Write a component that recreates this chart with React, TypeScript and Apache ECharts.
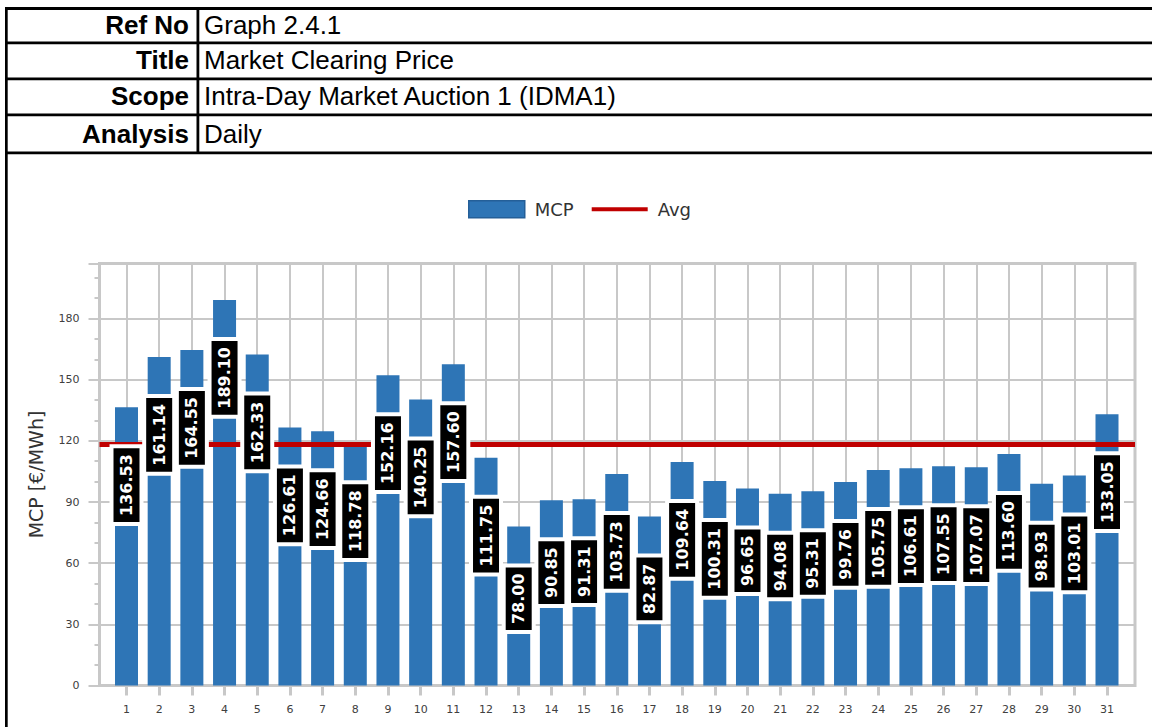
import React, { useEffect, useRef } from "react";
import * as echarts from "echarts";

const days = [
  "1", "2", "3", "4", "5", "6", "7", "8", "9", "10", "11", "12", "13", "14", "15", "16",
  "17", "18", "19", "20", "21", "22", "23", "24", "25", "26", "27", "28", "29", "30", "31",
];
const mcp = [
  136.53, 161.14, 164.55, 189.1, 162.33, 126.61, 124.66, 118.78, 152.16, 140.25, 157.6,
  111.75, 78.0, 90.85, 91.31, 103.73, 82.87, 109.64, 100.31, 96.65, 94.08, 95.31, 99.76,
  105.75, 106.61, 107.55, 107.07, 113.6, 98.93, 103.01, 133.05,
];
const avgValue = 118.18;
const yMin = 0;
const yMax = 207;
const yInterval = 30;

const headerLabels = ["Ref No", "Title", "Scope", "Analysis"];
const headerValues = ["Graph 2.4.1", "Market Clearing Price", "Intra-Day Market Auction 1 (IDMA1)", "Daily"];

const FONT = "DejaVu Sans";
const HFONT = "Liberation Sans";
const GRID_COLOR = "#c8c8c8";

export default function App() {
  const ref = useRef<HTMLDivElement>(null);

  useEffect(() => {
    const chart = echarts.init(ref.current!, null, { renderer: "svg" });

    const rowCenters = [24.7, 60, 96, 134];
    const rowLines = [41.5, 77.5, 113.5, 151.5];

    const graphic: any[] = [
      { type: "rect", z: 100, shape: { x: 5, y: 7, width: 1147, height: 3 }, style: { fill: "#000" } },
      { type: "rect", z: 100, shape: { x: 5, y: 7, width: 2.7, height: 720 }, style: { fill: "#000" } },
      { type: "rect", z: 100, shape: { x: 196.5, y: 7, width: 2.8, height: 147 }, style: { fill: "#000" } },
      ...rowLines.map((y) => ({
        type: "rect",
        z: 100,
        shape: { x: 5, y, width: 1147, height: 2.8 },
        style: { fill: "#000" },
      })),
      ...headerLabels.map((t, i) => ({
        type: "text",
        z: 100,
        x: 189,
        y: rowCenters[i],
        style: {
          text: t,
          fontFamily: HFONT,
          fontSize: 26,
          fontWeight: "bold",
          align: "right",
          verticalAlign: "middle",
          fill: "#000",
        },
      })),
      ...headerValues.map((t, i) => ({
        type: "text",
        z: 100,
        x: 204,
        y: rowCenters[i],
        style: {
          text: t,
          fontFamily: HFONT,
          fontSize: 26,
          align: "left",
          verticalAlign: "middle",
          fill: "#000",
        },
      })),
    ];

    const option: any = {
      animation: false,
      backgroundColor: "#fff",
      graphic,
      legend: {
        left: 463,
        top: 195,
        itemWidth: 56,
        itemHeight: 17,
        itemGap: 18,
        selectedMode: false,
        textStyle: { fontFamily: FONT, fontSize: 18, color: "#333", padding: [0, 0, 0, 5] },
        data: [
          { name: "MCP", icon: "rect", itemStyle: { borderColor: "#245f98", borderWidth: 1.5 } },
          { name: "Avg", icon: "path://M0,0L56,0L56,4L0,4Z", itemStyle: { color: "#c00000" } },
        ],
      },
      grid: [
        {
          left: 99.5,
          right: 17,
          top: 263.5,
          bottom: 41.5,
          show: true,
          borderColor: GRID_COLOR,
          borderWidth: 3,
          backgroundColor: "transparent",
        },
        { left: 126.5, right: 45, top: 263.5, bottom: 41.5 },
      ],
      xAxis: [
        { gridIndex: 0, type: "value", min: 0, max: 1, show: false },
        {
          gridIndex: 1,
          type: "category",
          data: days,
          boundaryGap: false,
          axisLine: { show: false },
          axisTick: { show: true, interval: 0, length: 10, lineStyle: { color: GRID_COLOR, width: 3 } },
          axisLabel: { interval: 0, color: "#404040", fontFamily: FONT, fontSize: 11, margin: 18 },
          splitLine: { show: true, interval: 0, lineStyle: { color: GRID_COLOR, width: 2 } },
        },
      ],
      yAxis: [
        {
          gridIndex: 0,
          type: "value",
          min: yMin,
          max: yMax,
          interval: yInterval,
          axisLine: { show: false },
          axisTick: { show: true, length: 11, lineStyle: { color: GRID_COLOR, width: 2 } },
          minorTick: { show: true, splitNumber: 3, length: 5, lineStyle: { color: GRID_COLOR, width: 2 } },
          axisLabel: { color: "#404040", fontFamily: FONT, fontSize: 11, margin: 20, showMaxLabel: false },
          splitLine: { show: true, lineStyle: { color: GRID_COLOR, width: 2 } },
          name: "MCP [€/MWh]",
          nameLocation: "middle",
          nameGap: 54,
          nameTextStyle: { fontFamily: FONT, fontSize: 19, color: "#333" },
        },
        { gridIndex: 1, type: "value", min: yMin, max: yMax, show: false },
      ],
      series: [
        {
          name: "MCP",
          type: "bar",
          xAxisIndex: 1,
          yAxisIndex: 1,
          data: mcp,
          barWidth: 23,
          barGap: "-100%",
          clip: false,
          z: 2,
          itemStyle: { color: "#2e75b6" },
        },
        {
          name: "Avg",
          type: "line",
          xAxisIndex: 0,
          yAxisIndex: 0,
          data: [
            [0, avgValue],
            [1, avgValue],
          ],
          symbol: "none",
          z: 3,
          lineStyle: { color: "#c00000", width: 5 },
          itemStyle: { color: "#c00000" },
        },
        {
          name: "MCP labels",
          type: "bar",
          xAxisIndex: 1,
          yAxisIndex: 1,
          data: mcp,
          barWidth: 23,
          barGap: "-100%",
          clip: false,
          silent: true,
          z: 4,
          itemStyle: { color: "rgba(0,0,0,0)" },
          label: {
            show: true,
            position: "insideTop",
            distance: 41,
            rotate: 90,
            align: "right",
            verticalAlign: "middle",
            formatter: (p: any) => Number(p.value).toFixed(2),
            color: "#fff",
            fontFamily: FONT,
            fontWeight: "bold",
            fontSize: 16,
            lineHeight: 16,
            backgroundColor: "#000",
            borderColor: "#fff",
            borderWidth: 4,
            padding: [5, 6],
          },
        },
      ],
    };

    chart.setOption(option);
    return () => chart.dispose();
  }, []);

  return (
    <div
      ref={ref}
      style={{ position: "fixed", left: 0, top: 0, width: 1152, height: 727, background: "#fff" }}
    />
  );
}
